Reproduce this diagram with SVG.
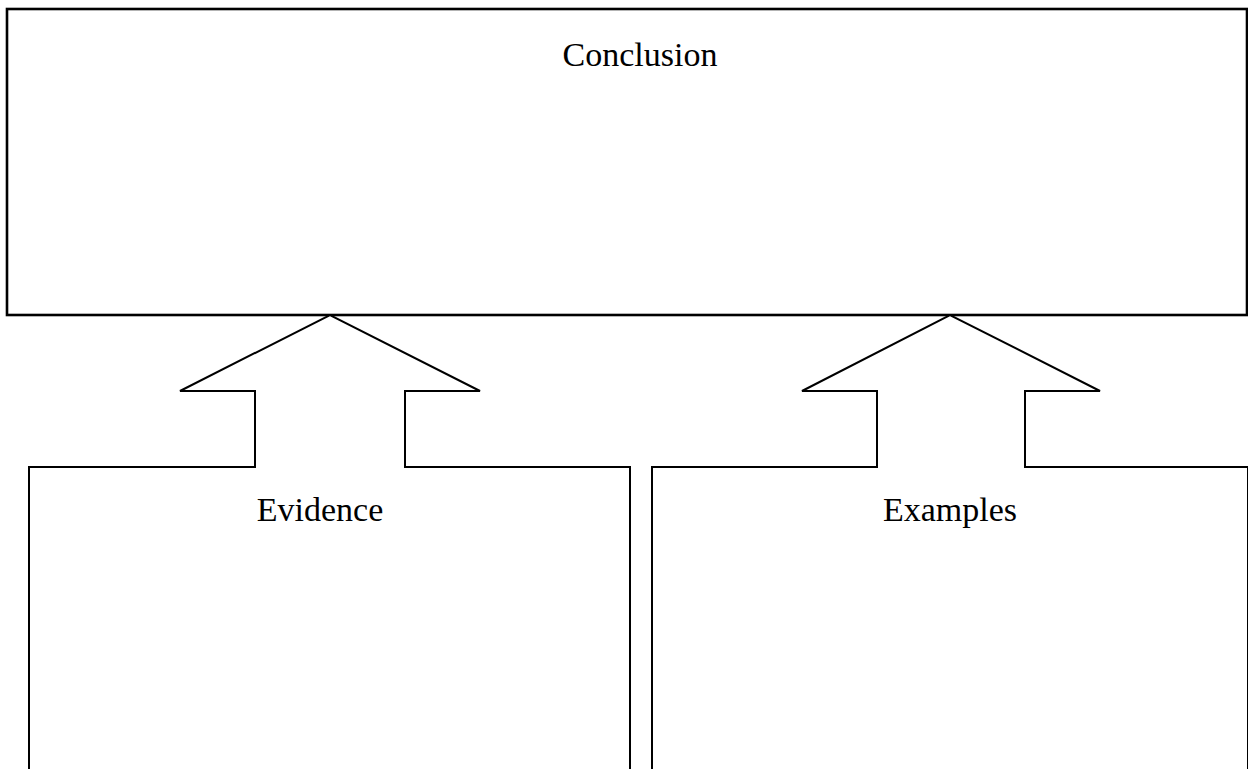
<svg xmlns="http://www.w3.org/2000/svg" width="1248" height="769" viewBox="0 0 1248 769">
<style>
.shape{fill:#fff;stroke:#000;stroke-width:2;stroke-linejoin:miter}
.top{stroke-width:2.6}
.lbl{font-family:"Liberation Serif","Times New Roman",serif;font-size:34px;fill:#000;text-anchor:middle}
</style>
<rect x="0" y="0" width="1248" height="769" fill="#fff"/>
<g id="conclusion">
<rect class="shape top" x="7" y="9" width="1240" height="306"/>
<text class="lbl" x="640" y="66">Conclusion</text>
</g>
<g id="evidence">
<path class="shape" d="M29,790 V467 H255 V391 H180 L330,315 L480,391 H405 V467 H630 V790"/>
<text class="lbl" x="320" y="521">Evidence</text>
</g>
<g id="examples">
<path class="shape" d="M652,790 V467 H877 V391 H802 L950,315 L1100,391 H1025 V467 H1248 V790"/>
<text class="lbl" x="950" y="521">Examples</text>
</g>
<g id="connectors"></g>
</svg>
